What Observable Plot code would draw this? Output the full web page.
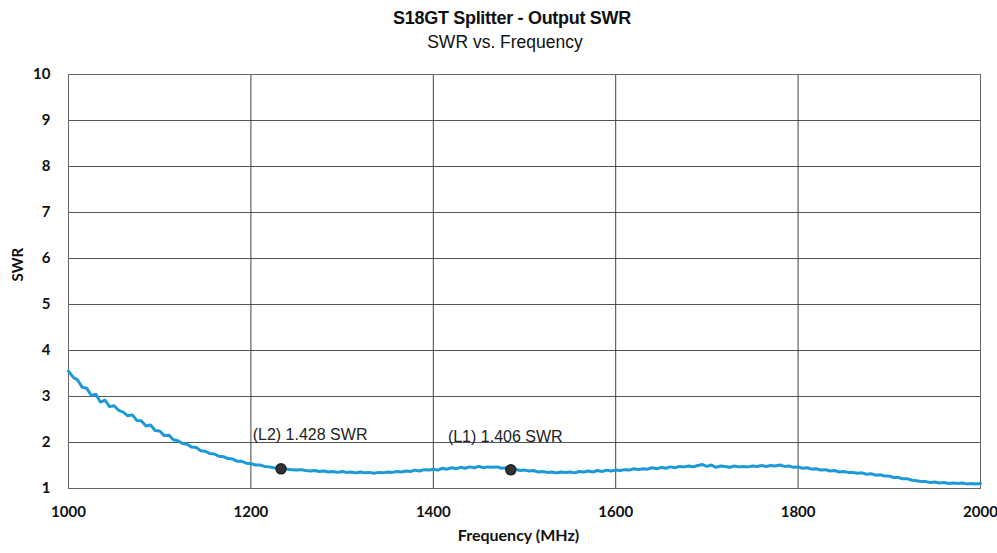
<!DOCTYPE html>
<html><head><meta charset="utf-8">
<script src="https://cdn.jsdelivr.net/npm/d3@7"></script>
<script src="https://cdn.jsdelivr.net/npm/@observablehq/plot@0.6"></script>
<style>
body{margin:0;background:#fff;width:997px;height:553px;overflow:hidden;font-family:"Liberation Sans",Arial,sans-serif;}
#title{position:relative;height:60px;}
.t1{position:absolute;left:0;width:1024px;top:8px;text-align:center;font-weight:bold;font-size:18px;color:#111;letter-spacing:-0.3px;}
.t2{position:absolute;left:0;width:1010px;top:32px;text-align:center;font-size:17.5px;color:#111;}
#chart svg{display:block;}
</style></head><body>
<div id="title"><div class="t1">S18GT Splitter - Output SWR</div><div class="t2">SWR vs. Frequency</div></div>
<div id="chart"></div>
<script>
// Sweep: 1000 to 2000 MHz, 5 MHz step
const freqStartMHz = 1000;
const freqStepMHz = 5;
const swrValues = [
  3.55,3.42,3.36,3.20,3.18,3.02,3.05,2.88,2.92,2.78,
  2.80,2.70,2.66,2.58,2.60,2.48,2.47,2.36,2.38,2.26,
  2.25,2.15,2.16,2.06,2.04,1.98,1.96,1.90,1.89,1.82,
  1.81,1.76,1.75,1.70,1.69,1.65,1.64,1.59,1.59,1.55,
  1.54,1.51,1.51,1.48,1.47,1.45,1.44,1.43,1.42,1.41,
  1.40,1.41,1.39,1.38,1.39,1.37,1.38,1.36,1.37,1.35,
  1.37,1.35,1.36,1.34,1.36,1.34,1.35,1.33,1.35,1.34,
  1.36,1.35,1.37,1.36,1.38,1.37,1.40,1.38,1.41,1.40,
  1.42,1.40,1.44,1.42,1.45,1.43,1.46,1.44,1.47,1.45,
  1.48,1.45,1.47,1.46,1.47,1.44,1.45,1.41,1.42,1.39,
  1.40,1.38,1.39,1.36,1.37,1.35,1.36,1.34,1.36,1.35,
  1.36,1.34,1.37,1.36,1.38,1.36,1.39,1.37,1.40,1.38,
  1.40,1.39,1.41,1.40,1.43,1.41,1.43,1.42,1.45,1.43,
  1.46,1.44,1.47,1.45,1.48,1.47,1.49,1.47,1.50,1.52,
  1.48,1.51,1.46,1.49,1.48,1.46,1.49,1.47,1.48,1.47,
  1.49,1.48,1.50,1.48,1.50,1.49,1.51,1.48,1.49,1.46,
  1.47,1.44,1.45,1.42,1.43,1.40,1.41,1.38,1.39,1.36,
  1.37,1.35,1.35,1.33,1.34,1.31,1.32,1.29,1.30,1.27,
  1.27,1.24,1.24,1.21,1.21,1.18,1.17,1.15,1.15,1.13,
  1.14,1.12,1.13,1.11,1.12,1.11,1.12,1.10,1.11,1.10,
  1.11
];
const markerNames = ["(L2)", "(L1)"];
const markerFreqs = [1233, 1485];
const markerSWR = [1.428, 1.406];
const markerLabelFreqs = [1202, 1416];
const markerLabelSWR = [2.17, 2.13];
const xTicks = [1000, 1200, 1400, 1600, 1800, 2000];
const yTicks = [1, 2, 3, 4, 5, 6, 7, 8, 9, 10];

const data = swrValues.map((v, i) => ({f: freqStartMHz + i * freqStepMHz, swr: v}));
const markers = markerNames.map((n, i) => ({
  name: n, f: markerFreqs[i], swr: markerSWR[i],
  lf: markerLabelFreqs[i], ly: markerLabelSWR[i],
  label: `${n} ${markerSWR[i].toFixed(3)} SWR`
}));

const chart = Plot.plot({
  width: 997, height: 493,
  marginLeft: 68, marginRight: 17, marginTop: 14, marginBottom: 65,
  style: {fontFamily: "Lato, 'Liberation Sans', sans-serif", fontSize: "15px", color: "#111", background: "#fff", overflow: "visible"},
  x: {domain: [1000, 2000], label: null},
  y: {domain: [1, 10], label: null},
  marks: [
    Plot.gridY(yTicks, {stroke: "#555", strokeOpacity: 1}),
    Plot.gridX(xTicks, {stroke: "#444", strokeOpacity: 1}),
    Plot.frame({stroke: "#666"}),
    Plot.axisX(xTicks, {tickSize: 0, tickPadding: 18, fontWeight: "bold", label: null, tickFormat: d => String(d)}),
    Plot.axisY(yTicks, {tickSize: 0, tickPadding: 18, fontWeight: "bold", label: null}),
    Plot.lineY(data, {x: "f", y: "swr", stroke: "#1c9ad8", strokeWidth: 3}),
    Plot.dot(markers, {x: "f", y: "swr", r: 5, fill: "#333", stroke: "#222"}),
    Plot.text(markers, {x: "lf", y: "ly", text: "label", textAnchor: "start", fontSize: 16, fontFamily: "'Liberation Sans', Arial, sans-serif", fill: "#222"}),
    Plot.text(["Frequency (MHz)"], {frameAnchor: "bottom", dy: 52, dx: -6, fontWeight: "bold", fontSize: 16}),
    Plot.text(["SWR"], {frameAnchor: "left", dx: -50, rotate: -90, fontWeight: "bold", fontSize: 15})
  ]
});
document.getElementById("chart").appendChild(chart);
</script>
</body></html>
